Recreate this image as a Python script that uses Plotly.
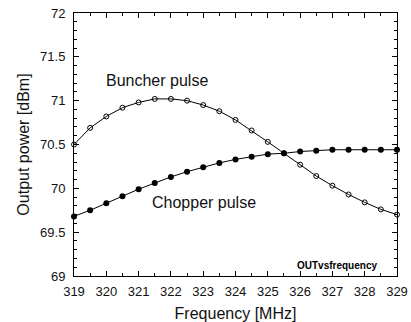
import plotly.graph_objects as go

freq = [319 + 0.5 * i for i in range(21)]
buncher = [70.50, 70.69, 70.82, 70.92, 70.98, 71.02, 71.02, 71.00, 70.95, 70.88,
           70.78, 70.66, 70.53, 70.40, 70.27, 70.14, 70.03, 69.93, 69.84, 69.76, 69.70]
chopper = [69.68, 69.75, 69.83, 69.91, 69.99, 70.06, 70.13, 70.19, 70.24, 70.29,
           70.33, 70.36, 70.39, 70.40, 70.42, 70.43, 70.44, 70.44, 70.44, 70.44, 70.44]
x_ticks = list(range(319, 330))
y_ticks = [69, 69.5, 70, 70.5, 71, 71.5, 72]

FONT = "Liberation Sans, Arial, sans-serif"

fig = go.Figure()
fig.add_trace(go.Scatter(
    x=freq, y=buncher, mode="lines+markers", name="Buncher pulse",
    line=dict(color="black", width=1),
    marker=dict(symbol="circle-open", size=5, color="black", line=dict(width=1)),
    cliponaxis=False,
))
fig.add_trace(go.Scatter(
    x=freq, y=chopper, mode="lines+markers", name="Chopper pulse",
    line=dict(color="black", width=1),
    marker=dict(symbol="circle", size=6, color="black"),
    cliponaxis=False,
))

axis_common = dict(
    showgrid=False, zeroline=False, showline=True, linecolor="black", linewidth=1,
    mirror="ticks", ticks="inside", ticklen=5, tickcolor="black", tickwidth=1,
    tickfont=dict(family=FONT, size=13, color="#111"), automargin=False,
)
fig.update_xaxes(
    range=[319, 329], tickvals=x_ticks, ticktext=[str(v) for v in x_ticks],
    minor=dict(dtick=0.5, ticks="inside", ticklen=3, tickcolor="black"),
    title=dict(text="Frequency [MHz]", font=dict(family=FONT, size=16, color="#111"), standoff=14),
    ticklabelstandoff=3,
    **axis_common,
)
fig.update_yaxes(
    range=[69, 72], tickvals=y_ticks, ticktext=["69", "69.5", "70", "70.5", "71", "71.5", "72"],
    minor=dict(dtick=0.1, ticks="inside", ticklen=3, tickcolor="black"),
    title=dict(text="Output power [dBm]", font=dict(family=FONT, size=16, color="#111"), standoff=6),
    ticklabelstandoff=5,
    **axis_common,
)

fig.add_annotation(x=321.57, y=71.225, text="Buncher pulse", showarrow=False,
                   font=dict(family=FONT, size=16, color="#111"))
fig.add_annotation(x=323.01, y=69.836, text="Chopper pulse", showarrow=False,
                   font=dict(family=FONT, size=16, color="#111"))
fig.add_annotation(x=328.44, y=69.118, text="<b>OUTvsfrequency</b>", showarrow=False,
                   xanchor="right", font=dict(family=FONT, size=10, color="black"))

fig.update_layout(
    width=411, height=322, showlegend=False,
    margin=dict(l=74, r=14, t=13, b=46),
    paper_bgcolor="white", plot_bgcolor="white",
)
fig.write_html("out.html")
